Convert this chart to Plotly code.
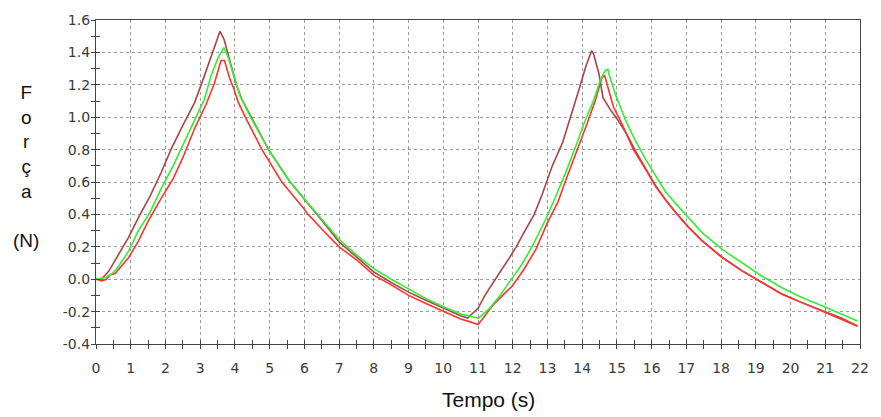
import plotly.graph_objects as go

# ---- data ----
brown_t = [0, 0.15, 0.36, 0.65, 0.93, 1.27, 1.55, 1.88, 2.17, 2.5, 2.84, 3.12, 3.36, 3.57, 3.69, 3.83,
           4.04, 4.2, 4.47, 4.97, 5.59, 6.0, 6.4, 7.0, 7.5, 8.0, 8.5, 9.0, 9.5, 10.0, 10.5, 10.7, 11.0,
           11.2, 11.4, 11.62, 11.9, 12.1, 12.33, 12.62, 12.86, 13.14, 13.43, 13.67, 13.9, 14.1,
           14.27, 14.33, 14.48, 14.6, 14.8, 15.0, 15.27, 15.55, 15.84, 16.12, 16.4, 16.7, 17.03, 17.46,
           18.03, 18.6, 19.17, 19.74, 20.31, 20.89, 21.46, 21.93]
brown_v = [0, 0, 0.047, 0.153, 0.255, 0.40, 0.51, 0.66, 0.806, 0.95, 1.09, 1.255, 1.40, 1.53, 1.48, 1.37,
           1.20, 1.11, 1.0, 0.80, 0.60, 0.49, 0.39, 0.23, 0.14, 0.045, -0.02, -0.08, -0.13, -0.18, -0.225,
           -0.24, -0.18, -0.10, -0.03, 0.04, 0.13, 0.20, 0.29, 0.40, 0.53, 0.70, 0.84, 1.0, 1.165,
           1.31, 1.41, 1.39, 1.27, 1.12, 1.05, 0.99, 0.90, 0.786, 0.675, 0.575, 0.49, 0.41, 0.33, 0.237,
           0.136, 0.053, -0.018, -0.09, -0.143, -0.193, -0.24, -0.288]

green_t = [0, 0.27, 0.5, 0.65, 0.93, 1.22, 1.55, 1.88, 2.22, 2.5, 2.84, 3.12, 3.31, 3.5, 3.68, 3.79,
           3.95, 4.15, 4.45, 4.7, 4.97, 5.3, 5.59, 6.1, 6.5, 7.0, 7.5, 8.0, 8.5, 9.0, 9.5, 10.0, 10.5,
           10.8, 11.02, 11.33, 11.62, 11.9, 12.24, 12.57, 12.95, 13.24, 13.52, 13.81, 14.05, 14.33,
           14.52, 14.67, 14.74, 14.78, 14.95, 15.25, 15.55, 15.84, 16.12, 16.4, 16.7, 17.03, 17.46,
           18.03, 18.6, 19.17, 19.74, 20.31, 20.89, 21.46, 21.93]
green_v = [0, 0.01, 0.04, 0.08, 0.17, 0.30, 0.41, 0.56, 0.70, 0.83, 0.99, 1.11, 1.255, 1.36, 1.43, 1.38,
           1.27, 1.13, 1.0, 0.9, 0.8, 0.69, 0.6, 0.47, 0.37, 0.245, 0.15, 0.065, 0.0, -0.06, -0.12, -0.17,
           -0.215, -0.23, -0.24, -0.18, -0.105, -0.018, 0.084, 0.206, 0.37, 0.512, 0.655, 0.818, 0.96,
           1.104, 1.227, 1.29, 1.296, 1.26, 1.145, 0.98, 0.847, 0.735, 0.633, 0.54, 0.465, 0.388, 0.286,
           0.184, 0.102, 0.02, -0.051, -0.112, -0.163, -0.214, -0.258]

red_t = [0, 0.17, 0.3, 0.41, 0.55, 0.69, 0.93, 1.22, 1.5, 1.88, 2.22, 2.5, 2.84, 3.17, 3.41, 3.60, 3.70,
         3.84, 3.98, 4.1, 4.3, 4.78, 5.35, 5.97, 6.11, 6.5, 7.0, 7.5, 8.0, 8.5, 9.0, 9.5, 10.0, 10.5,
         10.8, 11.0, 11.14, 11.43, 11.71, 12.0, 12.33, 12.67, 13.0, 13.29, 13.57, 13.86, 14.14, 14.38,
         14.57, 14.65, 14.71, 14.9, 15.14, 15.48, 15.84, 16.12, 16.4, 16.7, 17.03, 17.46, 18.03, 18.6,
         19.17, 19.74, 20.31, 20.89, 21.46, 21.93]
red_v = [0, -0.01, 0.0, 0.027, 0.035, 0.07, 0.13, 0.235, 0.357, 0.50, 0.62, 0.75, 0.93, 1.08, 1.21, 1.35,
         1.35, 1.245, 1.17, 1.09, 1.0, 0.8, 0.6, 0.44, 0.4, 0.31, 0.20, 0.12, 0.025, -0.035, -0.10, -0.15,
         -0.20, -0.245, -0.265, -0.28, -0.243, -0.16, -0.10, -0.039, 0.063, 0.186, 0.349, 0.471, 0.635,
         0.798, 0.96, 1.104, 1.247, 1.255, 1.206, 1.063, 0.96, 0.798, 0.673, 0.571, 0.49, 0.408, 0.327,
         0.235, 0.133, 0.051, -0.02, -0.092, -0.143, -0.194, -0.245, -0.29]

x_ticks = list(range(0, 23))
y_ticks = [-0.4, -0.2, 0.0, 0.2, 0.4, 0.6, 0.8, 1.0, 1.2, 1.4, 1.6]
y_tick_text = ["%.1f" % v for v in y_ticks]
x_title = "Tempo (s)"
y_title = "F<br>o<br>r<br>ç<br>a<br><br>(N)"

# ---- figure ----
W, H = 881, 417
L, R, T, B = 96, 14, 16, 73
AX = "#444444"
GRID = "#9a9a9a"
TICKFONT = dict(family="Verdana, DejaVu Sans, sans-serif", size=14, color="#3a3a3a")

fig = go.Figure()
fig.add_trace(go.Scatter(x=brown_t, y=brown_v, mode="lines", line=dict(color="#A84646", width=1.6),
                         showlegend=False))
fig.add_trace(go.Scatter(x=red_t, y=red_v, mode="lines", line=dict(color="#FF3333", width=1.6),
                         showlegend=False))
fig.add_trace(go.Scatter(x=green_t, y=green_v, mode="lines", line=dict(color="#33EE33", width=1.6),
                         showlegend=False))
# invisible trace on overlay axes (used for inner half of crossing ticks)
fig.add_trace(go.Scatter(x=[None], y=[None], xaxis="x2", yaxis="y2", showlegend=False, hoverinfo="skip"))

fig.update_layout(
    width=W, height=H,
    margin=dict(l=L, r=R, t=T, b=B),
    paper_bgcolor="white", plot_bgcolor="white",
    xaxis=dict(range=[0, 22], tickvals=x_ticks, ticktext=[str(v) for v in x_ticks],
               showgrid=True, gridcolor=GRID, griddash="3px,3px", gridwidth=1,
               showline=True, linecolor=AX, linewidth=1.2, mirror=True,
               ticks="outside", ticklen=4, tickcolor=AX, tickwidth=1.2, ticklabelstandoff=7,
               minor=dict(dtick=0.5, tick0=0, ticks="outside", ticklen=4, tickcolor=AX, tickwidth=1.2,
                          showgrid=False),
               tickfont=TICKFONT, zeroline=False, fixedrange=True),
    yaxis=dict(range=[-0.4, 1.6], tickvals=y_ticks, ticktext=y_tick_text,
               showgrid=True, gridcolor=GRID, griddash="3px,3px", gridwidth=1,
               showline=True, linecolor=AX, linewidth=1.2, mirror=True,
               ticks="outside", ticklen=4, tickcolor=AX, tickwidth=1.2, ticklabelstandoff=-2,
               minor=dict(dtick=0.1, tick0=0, ticks="outside", ticklen=4, tickcolor=AX, tickwidth=1.2,
                          showgrid=False),
               tickfont=TICKFONT, zeroline=False, fixedrange=True),
    xaxis2=dict(overlaying="x", anchor="y", side="bottom", range=[0, 22], dtick=1, tick0=0,
                ticks="inside", ticklen=4, tickcolor=AX, tickwidth=1.2, showticklabels=False,
                showgrid=False, showline=False, zeroline=False, fixedrange=True,
                minor=dict(dtick=0.5, tick0=0, ticks="inside", ticklen=4, tickcolor=AX, tickwidth=1.2)),
    yaxis2=dict(overlaying="y", anchor="x", side="left", range=[-0.4, 1.6], dtick=0.2, tick0=0,
                ticks="inside", ticklen=4, tickcolor=AX, tickwidth=1.2, showticklabels=False,
                showgrid=False, showline=False, zeroline=False, fixedrange=True,
                minor=dict(dtick=0.1, tick0=0, ticks="inside", ticklen=4, tickcolor=AX, tickwidth=1.2)),
    annotations=[
        dict(text=x_title, xref="paper", yref="paper", x=(492 - L) / (W - L - R), y=-(400 - (H - B)) / (H - T - B),
             xanchor="center", yanchor="middle", showarrow=False,
             font=dict(family="Liberation Sans, Arial, sans-serif", size=21, color="#111111")),
        dict(text=y_title, xref="paper", yref="paper", x=(25 - L) / (W - L - R), y=((H - B) - 164) / (H - T - B),
             xanchor="center", yanchor="middle", align="center", showarrow=False,
             font=dict(family="Liberation Sans, Arial, sans-serif", size=19, color="#111111")),
    ],
)

fig.write_html("out.html", config={"displayModeBar": False},
               post_script="document.body.style.margin='0px';")
